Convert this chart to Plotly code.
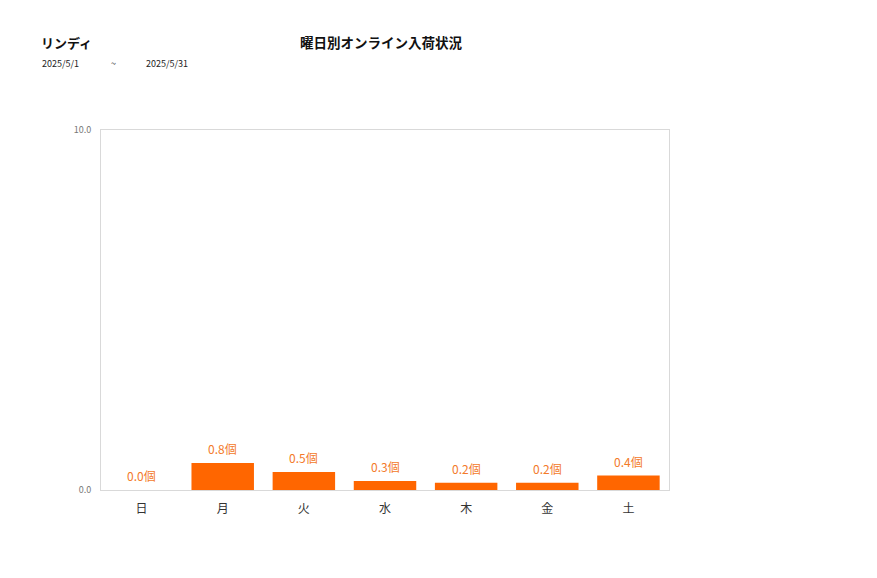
import math
import plotly.graph_objects as go

categories = ["日", "月", "火", "水", "木", "金", "土"]
values = [0.0, 0.75, 0.5, 0.25, 0.2, 0.2, 0.4]
y_ticks = [0, 10]
y_tick_labels = ["0.0", "10.0"]

def fmt(v):
    return f"{math.floor(v * 10 + 0.5) / 10:.1f}個"

labels = [fmt(v) for v in values]

FONT = "Noto Sans CJK JP"
ORANGE = "#FF6600"

OFF = 8  # page body offset
W, H = 877, 578
L, R, T, B = 101 - OFF, W - 669 + OFF, 130 - OFF, H - 490 + OFF

fig = go.Figure(go.Bar(
    x=categories, y=values, width=0.77,
    marker=dict(color=ORANGE, line=dict(width=0)),
    hoverinfo="skip",
))

fig.update_layout(
    width=W, height=H,
    margin=dict(l=L, r=R, t=T, b=B),
    paper_bgcolor="white", plot_bgcolor="white",
    showlegend=False,
    font=dict(family=FONT),
    xaxis=dict(showgrid=False, showline=True, linecolor="#d9d9d9", linewidth=1,
               mirror=True, ticks="", ticklabelstandoff=8,
               tickfont=dict(size=12, color="#333333"), fixedrange=True),
    yaxis=dict(range=[0, 10], tickvals=y_ticks, ticktext=y_tick_labels,
               showgrid=False, zeroline=False, showline=True, linecolor="#d9d9d9",
               linewidth=1, mirror=True, ticks="", ticklabelstandoff=7,
               tickfont=dict(size=9, color="#777777"), fixedrange=True),
)

def px_ann(text, x, y, size, color, xanchor="left"):
    pw = W - L - R
    ph = H - T - B
    return dict(text=text, xref="paper", yref="paper", showarrow=False,
                x=(x - OFF - L) / pw, y=(H - B - (y - OFF)) / ph,
                font=dict(family=FONT, size=size, color=color),
                xanchor=xanchor, yanchor="middle")

anns = [
    px_ann("<b>リンディ</b>", 39, 42, 13, "#111111"),
    px_ann("<b>曜日別オンライン入荷状況</b>", 381, 42, 13.5, "#111111", "center"),
    px_ann("2025/5/1", 40, 63, 9, "#222222"),
    px_ann("~", 113, 63, 9, "#222222", "center"),
    px_ann("2025/5/31", 144, 63, 9, "#222222"),
]
for c, v, t in zip(categories, values, labels):
    anns.append(dict(x=c, y=v, xref="x", yref="y", text=t, showarrow=False,
                     yanchor="bottom", yshift=4,
                     font=dict(family=FONT, size=12, color="#F37A2A")))
fig.update_layout(annotations=anns)

fig.write_html("out.html")
